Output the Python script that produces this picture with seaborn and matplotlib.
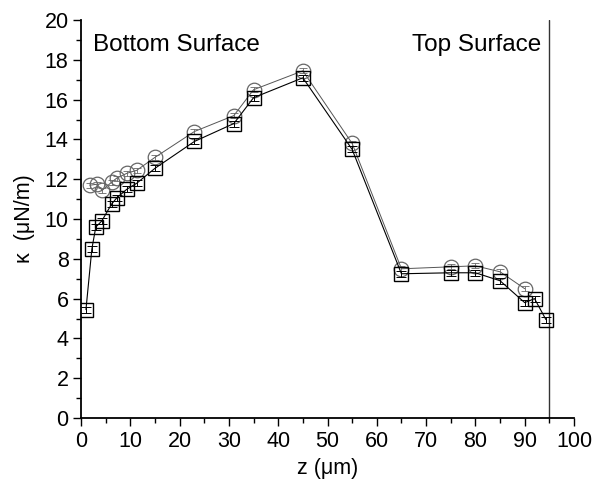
import matplotlib
matplotlib.use("Agg")
import matplotlib.pyplot as plt
from matplotlib.ticker import MultipleLocator
import seaborn as sns
import pandas as pd

# Spring constant along the depth of the film
z_square = [1.0, 2.2, 3.0, 4.2, 6.2, 7.2, 9.3, 11.3, 15.0, 23.0, 31.0, 35.0, 45.0,
            55.0, 65.0, 75.0, 80.0, 85.0, 90.0, 92.0, 94.3]
k_square = [5.45, 8.5, 9.6, 9.9, 10.75, 11.05, 11.5, 11.8, 12.55, 13.9, 14.8, 16.1, 17.1,
            13.5, 7.25, 7.3, 7.3, 6.9, 5.8, 6.0, 4.95]
err_square = [0.15, 0.15, 0.15, 0.15, 0.15, 0.15, 0.15, 0.15, 0.15, 0.15, 0.15, 0.15, 0.15,
              0.15, 0.15, 0.15, 0.15, 0.15, 0.15, 0.15, 0.15]

z_circle = [1.8, 3.2, 4.3, 6.2, 7.2, 9.3, 11.3, 15.0, 23.0, 31.0, 35.0, 45.0,
            55.0, 65.0, 75.0, 80.0, 85.0, 90.0]
k_circle = [11.7, 11.75, 11.45, 11.85, 12.05, 12.3, 12.45, 13.1, 14.4, 15.2, 16.5, 17.45,
            13.8, 7.5, 7.6, 7.65, 7.35, 6.5]
err_circle = [0.12] * len(z_circle)

x_ticks = [0, 10, 20, 30, 40, 50, 60, 70, 80, 90, 100]
y_ticks = [0, 2, 4, 6, 8, 10, 12, 14, 16, 18, 20]

sns.set_style("ticks")
plt.rcParams["font.family"] = ["Liberation Sans", "DejaVu Sans"]
plt.rcParams["text.color"] = "black"
plt.rcParams["axes.labelcolor"] = "black"

fig = plt.figure(figsize=(5.94, 4.90), dpi=100)
ax = fig.add_axes([0.1364, 0.1469, 0.8299, 0.8121])

circ = pd.DataFrame({"z": z_circle, "k": k_circle})
sq = pd.DataFrame({"z": z_square, "k": k_square})

sns.lineplot(data=circ, x="z", y="k", ax=ax, sort=False, color="#555555", lw=0.7,
             marker="o", markersize=10.5, markerfacecolor="none",
             markeredgecolor="#666666", markeredgewidth=0.9, zorder=2)
ax.errorbar(z_circle, k_circle, yerr=err_circle, fmt="none", ecolor="#666666",
            elinewidth=0.6, capsize=3, capthick=0.6, zorder=2)

sns.lineplot(data=sq, x="z", y="k", ax=ax, sort=False, color="black", lw=0.8,
             marker="s", markersize=9.5, markerfacecolor="none",
             markeredgecolor="black", markeredgewidth=1.0, zorder=3)
ax.errorbar(z_square, k_square, yerr=err_square, fmt="none", ecolor="black",
            elinewidth=0.7, capsize=3.5, capthick=0.7, zorder=3)

ax.axvline(95, ymin=0, ymax=1, color="#333333", lw=1.0, zorder=1)

ax.set_xlim(0, 100)
ax.set_ylim(0, 20)
ax.set_xticks(x_ticks)
ax.set_yticks(y_ticks)
ax.xaxis.set_minor_locator(MultipleLocator(5))
ax.yaxis.set_minor_locator(MultipleLocator(1))
ax.tick_params(which="major", direction="out", length=6, width=1.0, labelsize=15.5,
               pad=3, colors="black", labelcolor="black")
ax.tick_params(which="minor", direction="out", length=3.5, width=1.0, colors="black")
for side in ("top", "right"):
    ax.spines[side].set_visible(False)
for side in ("left", "bottom"):
    ax.spines[side].set_linewidth(1.3)
    ax.spines[side].set_color("black")

ax.set_xlabel("z (\u03bcm)", fontsize=15.5, labelpad=5, color="black")
ax.set_ylabel("\u03ba  (\u03bcN/m)", fontsize=15.5, labelpad=7, color="black")

ax.text(2.4, 18.75, "Bottom Surface", fontsize=17.5, ha="left", va="center", color="black")
ax.text(93.4, 18.75, "Top Surface", fontsize=17.5, ha="right", va="center", color="black")

fig.savefig("out.png", dpi=100, facecolor="white")
